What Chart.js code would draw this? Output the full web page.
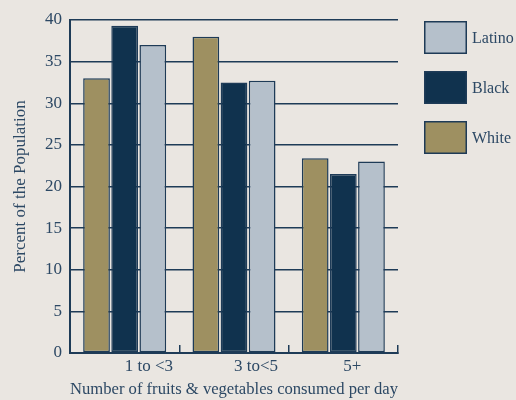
<!DOCTYPE html>
<html>
<head>
<meta charset="utf-8">
<script src="https://cdn.jsdelivr.net/npm/chart.js@4"></script>
<style>
  html, body { margin: 0; padding: 0; background: #EAE6E1; }
  #wrap { width: 516px; height: 400px; }
</style>
</head>
<body>
<div id="wrap"><canvas id="c" width="516" height="400"></canvas></div>
<script>
// Share of each group by daily servings of fruits & vegetables (percent)
const categories = ['1 to <3', '3 to<5', '5+'];
const whiteValues  = [33, 38, 23.4];
const blackValues  = [39.3, 32.5, 21.5];
const latinoValues = [37, 32.7, 23];
const yTickValues  = [0, 5, 10, 15, 20, 25, 30, 35, 40];

const NAVY = '#1E3B57';
const TEXT = '#2C4864';
const FONT = 'Liberation Serif, "DejaVu Serif", serif';
const FONT_SIZE = 17;

// Legend boxes to the right of the plot, listed top-down Latino, Black, White
const sideLegend = {
  id: 'sideLegend',
  afterDraw(chart) {
    const ctx = chart.ctx;
    const sets = chart.data.datasets.slice().reverse();
    ctx.save();
    sets.forEach((ds, i) => {
      const x = 424, y = 21 + i * 50, w = 43, h = 33;
      ctx.fillStyle = ds.backgroundColor;
      ctx.fillRect(x, y, w, h);
      ctx.strokeStyle = NAVY;
      ctx.lineWidth = 1.5;
      ctx.strokeRect(x + 0.75, y + 0.75, w - 1.5, h - 1.5);
      ctx.fillStyle = TEXT;
      ctx.font = '16px ' + FONT;
      ctx.textAlign = 'left';
      ctx.textBaseline = 'middle';
      ctx.fillText(ds.label, x + w + 5, y + h / 2 + 1);
    });
    ctx.restore();
  }
};

new Chart(document.getElementById('c'), {
  type: 'bar',
  data: {
    labels: categories,
    datasets: [
      { label: 'White',  data: whiteValues,  backgroundColor: '#9E9061' },
      { label: 'Black',  data: blackValues,  backgroundColor: '#10324E' },
      { label: 'Latino', data: latinoValues, backgroundColor: '#B5C0CB' }
    ]
  },
  options: {
    responsive: false,
    animation: false,
    layout: { padding: { top: 20, right: 118, bottom: 0, left: 0 } },
    datasets: {
      bar: {
        categoryPercentage: 0.772,
        barPercentage: 0.95,
        borderColor: NAVY,
        borderWidth: 1.5,
        borderSkipped: false
      }
    },
    plugins: {
      legend: { display: false },
      tooltip: { enabled: false }
    },
    scales: {
      x: {
        afterFit(scale) { scale.height = 47; },
        grid: {
          offset: true,
          drawOnChartArea: false,
          drawTicks: true,
          tickLength: -8,
          color: NAVY,
          lineWidth: 1.5
        },
        border: { display: true, color: NAVY, width: 2 },
        ticks: {
          align: 'start',
          padding: 11,
          color: TEXT,
          font: { family: FONT, size: FONT_SIZE }
        },
        title: {
          display: true,
          text: 'Number of fruits & vegetables consumed per day',
          color: TEXT,
          font: { family: FONT, size: FONT_SIZE },
          padding: { top: 0, bottom: 0 }
        }
      },
      y: {
        min: 0,
        max: 40,
        afterFit(scale) { scale.width = 70; },
        afterBuildTicks(scale) { scale.ticks = yTickValues.map(v => ({ value: v })); },
        grid: { color: NAVY, lineWidth: 1.5, drawTicks: false },
        border: { display: true, color: NAVY, width: 2 },
        ticks: {
          padding: 8,
          color: TEXT,
          font: { family: FONT, size: FONT_SIZE }
        },
        title: {
          display: true,
          text: 'Percent of the Population',
          color: TEXT,
          font: { family: FONT, size: FONT_SIZE },
          padding: { top: 10, bottom: 0 }
        }
      }
    }
  },
  plugins: [sideLegend]
});
</script>
</body>
</html>
